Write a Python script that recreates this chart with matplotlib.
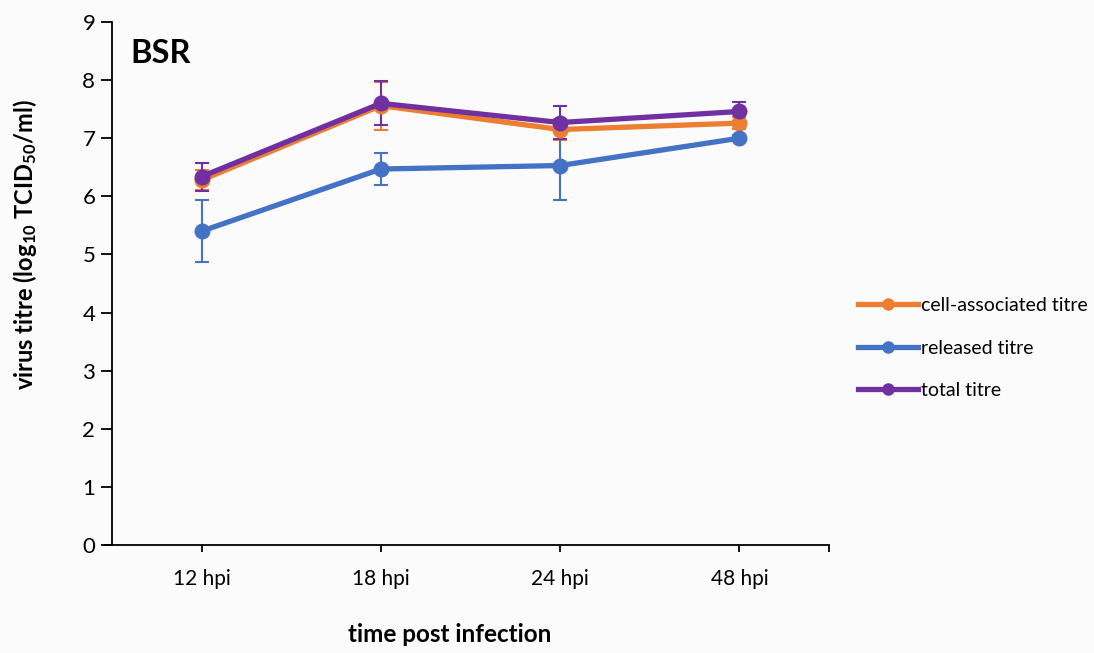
import matplotlib
matplotlib.use("Agg")
import matplotlib.pyplot as plt
from matplotlib.lines import Line2D
import numpy as np

categories = ["12 hpi", "18 hpi", "24 hpi", "48 hpi"]
cell_assoc = [6.28, 7.56, 7.15, 7.26]
cell_assoc_err = [0.17, 0.41, 0.18, 0.10]
released = [5.40, 6.47, 6.53, 7.00]
released_err = [0.53, 0.28, 0.59, 0.05]
total = [6.34, 7.60, 7.27, 7.46]
total_err = [0.24, 0.38, 0.29, 0.16]
yticks = list(range(0, 10))

plt.rcParams['font.family'] = ['Lato', 'DejaVu Sans']
plt.rcParams['mathtext.fontset'] = 'custom'
plt.rcParams['mathtext.rm'] = 'Lato:bold'
plt.rcParams['mathtext.bf'] = 'Lato:bold'
plt.rcParams['mathtext.it'] = 'Lato:bold'
plt.rcParams['mathtext.default'] = 'bf'

bg = '#fbfbfc'
W, H = 1094, 653
fig = plt.figure(figsize=(W/100, H/100), dpi=100, facecolor=bg)
ax = fig.add_axes([112/W, 1-545/H, (829-112)/W, (545-22)/H], facecolor=bg)

x = np.arange(len(categories))
series = [
    ("cell-associated titre", cell_assoc, cell_assoc_err, '#ED7D31'),
    ("released titre", released, released_err, '#4472C4'),
    ("total titre", total, total_err, '#7030A0'),
]
handles = []
for label, vals, err, col in series:
    ax.errorbar(x, vals, yerr=err, color=col, lw=3.8, marker='o', ms=10.5,
                ecolor=col, elinewidth=1.5, capsize=5, capthick=1.5, zorder=3)
    handles.append(Line2D([], [], color=col, lw=3.8, marker='o', ms=8, label=label))

ax.set_xlim(-0.5, 3.5)
ax.set_ylim(0, 9)
ax.set_yticks(yticks)
ax.set_xticks(x)
ax.set_xticklabels(categories)
ax.set_xticks([3.5], minor=True)
ax.tick_params(axis='x', which='both', length=5, width=1.3, labelsize=15, pad=12)
ax.tick_params(axis='y', length=8, width=1.3, labelsize=16, pad=4)
for s in ['top', 'right']:
    ax.spines[s].set_visible(False)
for s in ['left', 'bottom']:
    ax.spines[s].set_linewidth(1.3)

fig.text(25/W, 1-245/H, r"virus titre (log$_{10}$ TCID$_{50}$/ml)", fontsize=17,
         fontweight='bold', rotation=90, ha='center', va='center')
fig.text(450/W, 1-635/H, "time post infection", fontsize=17.5, fontweight='bold',
         ha='center', va='center')

ax.text(0.026, 0.968, "BSR", transform=ax.transAxes, fontsize=23.5, fontweight='bold',
        va='top', ha='left')

# extend x-axis line left under y ticks
ax.plot([-0.5 - 8/179, -0.5], [0, 0], color='black', lw=1.3, clip_on=False,
        solid_capstyle='butt')

ax.legend(handles=handles, loc='center left', bbox_to_anchor=((858-112)/717, (545-348)/523),
          frameon=False, fontsize=14, handlelength=3.1, handletextpad=0.15,
          labelspacing=1.3, borderpad=0, borderaxespad=0)
fig.savefig("out.png", dpi=100, facecolor=bg)
